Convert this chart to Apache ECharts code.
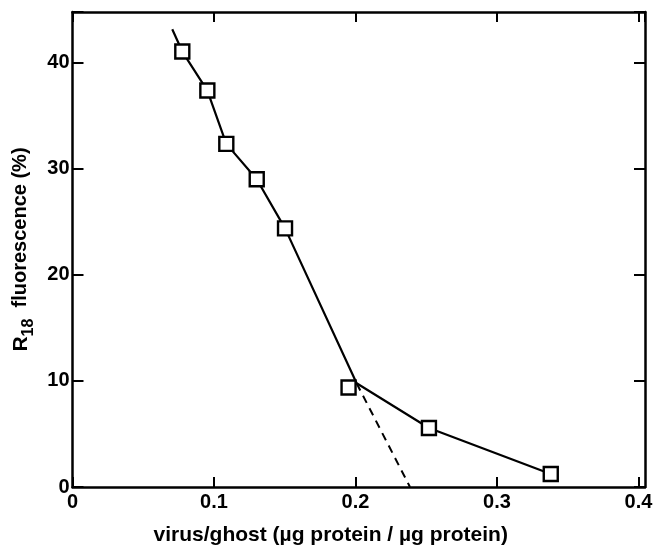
<!DOCTYPE html>
<html><head><meta charset="utf-8">
<script src="https://cdn.jsdelivr.net/npm/echarts@6/dist/echarts.min.js"></script>
<style>html,body{margin:0;padding:0;background:#fff}#c{width:656px;height:546px}</style>
</head><body><div id="c"></div>
<script>
const pointX = [0.0776, 0.0953, 0.1087, 0.1302, 0.1502, 0.1951, 0.2519, 0.3380];
const pointY = [41.07, 37.39, 32.36, 29.03, 24.39, 9.39, 5.57, 1.23];
const fitX = [0.0705, 0.0776, 0.0953, 0.1087, 0.1302, 0.1502, 0.2008, 0.2519, 0.3380];
const fitY = [43.18, 41.07, 37.39, 32.36, 29.03, 24.39, 9.78, 5.57, 1.23];
const dashX = [0.2008, 0.2385];
const dashY = [9.78, 0];
const xTicks = [0, 0.1, 0.2, 0.3, 0.4];
const yTicks = [0, 10, 20, 30, 40];

const zip = (a, b) => a.map((v, i) => [v, b[i]]);
const FONT = 'Liberation Sans';
const lblStyle = {color: '#000', fontFamily: FONT, fontWeight: 'bold', fontSize: 20};
const axisLineStyle = {color: '#000', width: 2.5};
const tickStyle = {color: '#000', width: 2};

const chart = echarts.init(document.getElementById('c'), null, {renderer: 'canvas'});
chart.setOption({
  animation: false,
  backgroundColor: '#fff',
  grid: {left: 72.5, right: 11, top: 12, bottom: 59, containLabel: false, outerBoundsMode: 'none'},
  xAxis: [{
    type: 'value', min: 0, max: 0.4046, interval: 0.1, position: 'bottom',
    axisLine: {show: true, onZero: false, lineStyle: axisLineStyle},
    axisTick: {show: true, inside: true, length: 10, lineStyle: tickStyle},
    splitLine: {show: false},
    axisLabel: Object.assign({margin: 5, formatter: v => xTicks.includes(+v.toFixed(2)) ? String(+v.toFixed(2)) : ''}, lblStyle),
    name: 'virus/ghost (µg protein / µg protein)',
    nameLocation: 'middle', nameGap: 38,
    nameTextStyle: Object.assign({}, lblStyle, {fontSize: 21, padding: [0, 56, 0, 0]})
  }, {
    type: 'value', min: 0, max: 0.4046, interval: 0.1, position: 'top',
    axisLine: {show: true, onZero: false, lineStyle: axisLineStyle},
    axisTick: {show: true, inside: true, length: 10, lineStyle: tickStyle},
    splitLine: {show: false}, axisLabel: {show: false}
  }],
  yAxis: [{
    type: 'value', min: 0, max: 44.8, interval: 10, position: 'left',
    axisLine: {show: true, onZero: false, lineStyle: axisLineStyle},
    axisTick: {show: true, inside: true, length: 11, lineStyle: tickStyle},
    splitLine: {show: false},
    axisLabel: Object.assign({margin: 3, formatter: v => yTicks.includes(v) ? String(v) : ''}, lblStyle),
    name: '{r|R}{s|18}{t|  fluorescence (%)}',
    nameLocation: 'middle', nameGap: 29, nameRotate: 90,
    nameTextStyle: {
      color: '#000', fontFamily: FONT, fontWeight: 'bold', fontSize: 20,
      rich: {
        r: {fontSize: 21, fontFamily: FONT, fontWeight: 'bold', color: '#000', lineHeight: 22, verticalAlign: 'top'},
        s: {fontSize: 16, fontFamily: FONT, fontWeight: 'bold', color: '#000', lineHeight: 16, padding: [10, 0, 0, 0], verticalAlign: 'top'},
        t: {fontSize: 20, fontFamily: FONT, fontWeight: 'bold', color: '#000', lineHeight: 22, verticalAlign: 'top'}
      }
    }
  }, {
    type: 'value', min: 0, max: 44.8, interval: 10, position: 'right',
    axisLine: {show: true, onZero: false, lineStyle: axisLineStyle},
    axisTick: {show: true, inside: true, length: 11, lineStyle: tickStyle},
    splitLine: {show: false}, axisLabel: {show: false}
  }],
  series: [{
    type: 'line', data: zip(fitX, fitY), symbol: 'none',
    lineStyle: {color: '#000', width: 2.2}, z: 2
  }, {
    type: 'line', data: zip(dashX, dashY), symbol: 'none',
    lineStyle: {color: '#000', width: 2, type: [8, 6]}, z: 2
  }, {
    type: 'scatter', data: zip(pointX, pointY), symbol: 'rect', symbolSize: 14,
    itemStyle: {color: '#fff', borderColor: '#000', borderWidth: 2.4, opacity: 1}, z: 5
  }]
});
</script></body></html>
